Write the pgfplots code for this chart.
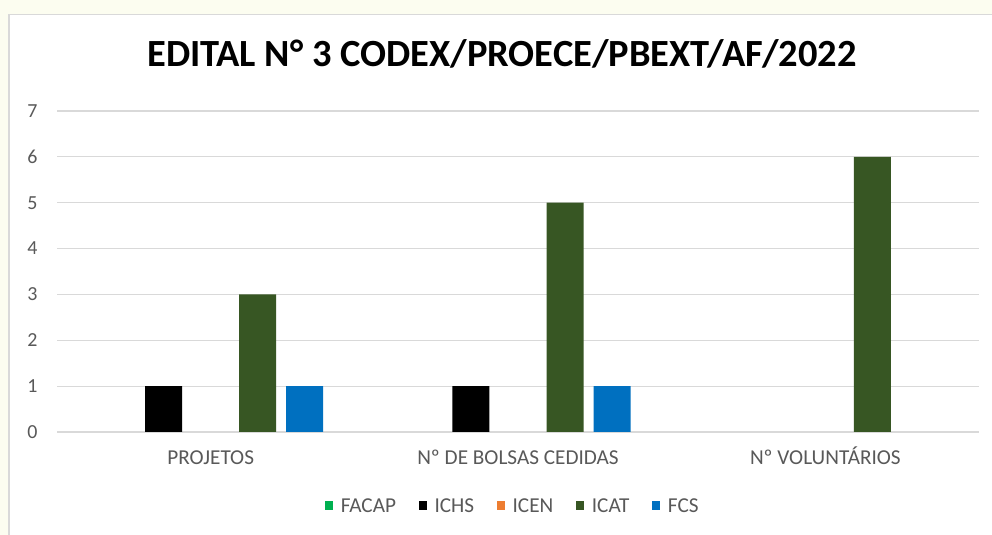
\documentclass[border=0pt]{standalone}
\usepackage{pgfplots}
\pgfplotsset{compat=1.18}
\usepackage{fontspec}
\setmainfont{Carlito}
\definecolor{bgy}{HTML}{FCFDF0}
\definecolor{gridc}{HTML}{D9D9D9}
\definecolor{tickc}{HTML}{595959}
\definecolor{cfacap}{HTML}{00B050}
\definecolor{cichs}{HTML}{000000}
\definecolor{cicen}{HTML}{ED7D31}
\definecolor{cicat}{HTML}{375623}
\definecolor{cfcs}{HTML}{0070C0}
\begin{document}
\begin{tikzpicture}[x=1bp,y=1bp]
\path[use as bounding box] (0,0) rectangle (992,535);
\fill[bgy] (0,0) rectangle (992,535);
\fill[white] (8,0) rectangle (992,521);
\draw[gridc,line width=1.5bp] (8.75,0) -- (8.75,520.25) -- (992,520.25);
\node[anchor=base,font=\fontsize{38.6}{44}\selectfont\bfseries,text=black,inner sep=0pt] at (502,468) {EDITAL N° 3 CODEX/PROECE/PBEXT/AF/2022};
\begin{axis}[
  at={(57bp,103bp)}, anchor=south west,
  width=922bp, height=321bp, scale only axis,
  xmin=-0.5, xmax=2.5, ymin=0, ymax=7,
  ytick={0,1,2,3,4,5,6,7},
  xtick={0,1,2},
  xticklabels={PROJETOS, Nº DE BOLSAS CEDIDAS, Nº VOLUNTÁRIOS},
  axis line style={draw=none},
  major tick length=0pt,
  ymajorgrids,
  grid style={gridc, line width=1.2bp},
  ybar, bar width=0.1204,
  yticklabel style={font=\fontsize{20}{24}\selectfont, text=tickc, anchor=east, xshift=-16bp},
  xticklabel style={font=\fontsize{21.3}{24}\selectfont, text=tickc, anchor=base, yshift=-33bp},
  /pgf/number format/assume math mode=true,
  legend columns=5,
  legend style={at={(0.4945,-0.232)}, anchor=center, draw=none, fill=none,
    font=\fontsize{21.3}{24}\selectfont, text=tickc,
    /tikz/every odd column/.append style={column sep=5.5bp},
    /tikz/every even column/.append style={column sep=21bp}},
  legend image code/.code={\fill[#1] (0bp,-4bp) rectangle (8bp,5bp);},
  clip=false,
]
\addlegendimage{fill=cfacap, draw=none}
\addlegendentry{FACAP}
\addlegendimage{fill=cichs, draw=none}
\addlegendentry{ICHS}
\addlegendimage{fill=cicen, draw=none}
\addlegendentry{ICEN}
\addlegendimage{fill=cicat, draw=none}
\addlegendentry{ICAT}
\addlegendimage{fill=cfcs, draw=none}
\addlegendentry{FCS}
\addplot[fill=cichs, draw=none, bar shift=-0.153, forget plot] coordinates {(0,1) (1,1)};
\addplot[fill=cicat, draw=none, bar shift=0.153, forget plot] coordinates {(0,3) (1,5) (2,6)};
\addplot[fill=cfcs, draw=none, bar shift=0.306, forget plot] coordinates {(0,1) (1,1)};
\end{axis}
\end{tikzpicture}
\end{document}
